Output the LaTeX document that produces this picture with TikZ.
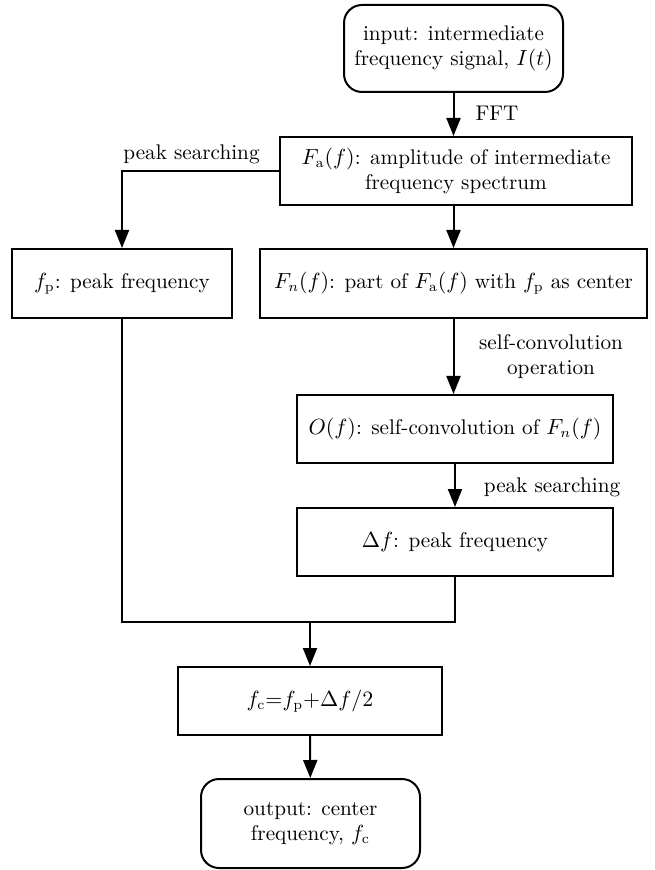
\documentclass[tikz,border=0pt]{standalone}
\usetikzlibrary{arrows.meta}

\begin{document}
\begin{tikzpicture}[x=0.5pt,y=-0.5pt,
  every node/.style={font=\fontsize{10.6}{12.5}\selectfont},
  box/.style={draw,line width=1pt,rectangle,align=center,inner sep=0pt},
  term/.style={box,rounded corners=9pt},
  lbl/.style={align=center,inner sep=0pt},
  arr/.style={line width=1pt,-{Triangle[length=9pt,width=7pt]}},
  merge/.style={line width=1pt}]
\useasboundingbox (0,0) rectangle (654,870);

% Boxes
\node[term,minimum width=109.5pt,minimum height=43.5pt] (in) at (453.5,48.5)
  {input: intermediate\\frequency signal, $I(t)$};
\node[box,minimum width=176pt,minimum height=34pt] (Fa) at (456,171)
  {$F_{\mathrm{a}}(f)$: amplitude of intermediate\\frequency spectrum};
\node[box,minimum width=110pt,minimum height=34.5pt] (fp) at (122,283.5)
  {$f_{\mathrm{p}}$: peak frequency};
\node[box,minimum width=193.5pt,minimum height=34.5pt] (Fn) at (453.5,283.5)
  {$F_n(f)$: part of $F_{\mathrm{a}}(f)$ with $f_{\mathrm{p}}$ as center};
\node[box,minimum width=158pt,minimum height=34pt] (O) at (455,429)
  {$O(f)$: self-convolution of $F_n(f)$};
\node[box,minimum width=158pt,minimum height=34pt] (df) at (455,542)
  {$\Delta f$: peak frequency};
\node[box,minimum width=132pt,minimum height=34pt] (fc) at (310,701)
  {$f_{\mathrm{c}}{=}f_{\mathrm{p}}{+}\Delta f/2$};
\node[term,minimum width=109.5pt,minimum height=44.5pt] (out) at (310.5,823.5)
  {output: center\\frequency, $f_{\mathrm{c}}$};

% Labels
\node[lbl] (fft) at (497,113) {FFT};
\node[lbl,anchor=base west] (ps1) at (123,160) {peak searching};
\node[lbl] (sc) at (551,357) {self-convolution\\operation};
\node[lbl] (ps2) at (552,487) {peak searching};

% Arrows
\draw[arr] (in.south) -- (in.south |- Fa.north);
\draw[arr] (Fa.west) -| (fp.north);
\draw[arr] (Fn.north |- Fa.south) -- (Fn.north);
\draw[arr] (Fn.south) -- (Fn.south |- O.north);
\draw[arr] (O) -- (df);

% Merge
\coordinate (jn) at (310,622);
\draw[merge] (fp.south) |- (jn) -| (df.south);
\draw[arr] (jn) -- (fc);
\draw[arr] (fc) -- (out);
\end{tikzpicture}
\end{document}
